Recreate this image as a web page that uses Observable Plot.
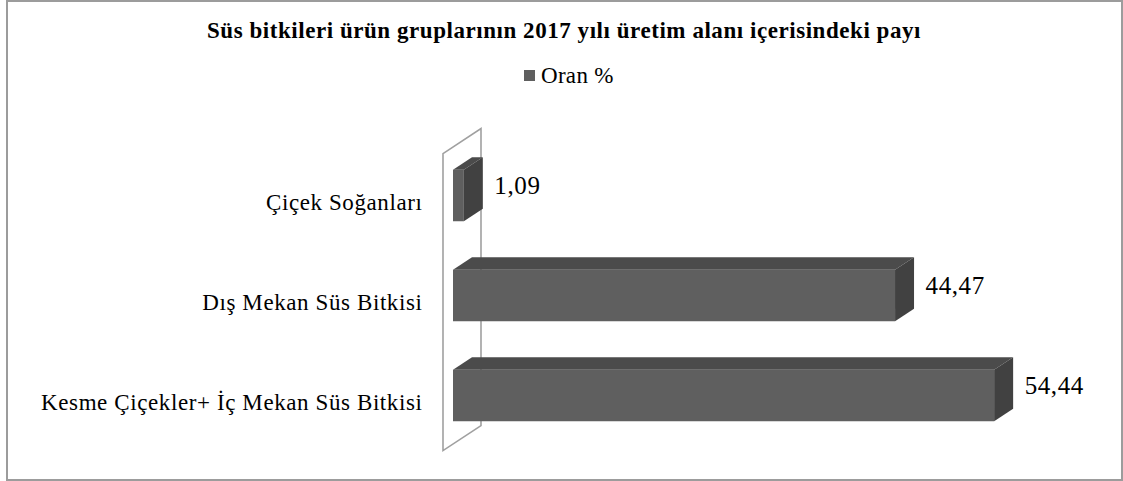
<!DOCTYPE html>
<html>
<head>
<meta charset="utf-8">
<script src="https://cdn.jsdelivr.net/npm/d3@7"></script>
<script src="https://cdn.jsdelivr.net/npm/@observablehq/plot@0.6"></script>
<style>
  html, body { margin: 0; padding: 0; background: #fff; }
  #fig { position: relative; width: 1123px; height: 481px; overflow: hidden; font-family: "Liberation Serif", "Times New Roman", serif; color: #000; }
  #frame { position: absolute; left: 6px; top: 0; width: 1117px; height: 481px; border: 2px solid #9c9c9c; box-sizing: border-box; pointer-events: none; }
  #title { position: absolute; left: 0; top: 19px; width: 1123px; padding-left: 5px; box-sizing: border-box; text-align: center; font-weight: bold; font-size: 23px; line-height: 23px; letter-spacing: 0.55px; white-space: nowrap; }
  #legend { position: absolute; left: 524px; top: 64px; display: flex; align-items: center; gap: 6px; font-size: 23px; line-height: 23px; letter-spacing: 0.3px; white-space: nowrap; }
  #legend .sw { width: 11px; height: 11px; background: #5f5f5f; }
  #plot { position: absolute; left: 0; top: 100px; }
</style>
</head>
<body>
<div id="fig">
  <div id="title"></div>
  <div id="legend"><span class="sw"></span><span id="legend-label"></span></div>
  <div id="plot"></div>
  <div id="frame"></div>
</div>
<script>
// ---- data ----
const titleText = "Süs bitkileri ürün gruplarının 2017 yılı üretim alanı içerisindeki payı";
const seriesName = "Oran %";
const categories = ["Çiçek Soğanları", "Dış Mekan Süs Bitkisi", "Kesme Çiçekler+ İç Mekan Süs Bitkisi"];
const shares = [1.09, 44.47, 54.44];
const xDomain = [0, 60];

// ---- style constants ----
const FRONT = "#5f5f5f", TOP = "#4b4b4b", SIDE = "#414141";
const DEPTH_DX = 19, DEPTH_DY = -12.5;        // bar depth
const WALL_DX = 38, WALL_DY = -25;            // wall depth
const WALL_OFF_X = -10, WALL_OFF_Y = 6.6;     // wall front plane relative to bar fronts

document.getElementById("title").textContent = titleText;
document.getElementById("legend-label").textContent = seriesName;

const data = categories.map((c, i) => ({cat: c, value: shares[i]}));
const fmt = v => v.toFixed(2).replace(".", ",");

// side wall drawn from the scales
const wall = (index, scales) => {
  const x = scales.x, y = scales.y;
  const [r0, r1] = y.range();
  const xf = x(0) + WALL_OFF_X;
  const yT = Math.min(r0, r1) + WALL_OFF_Y, yB = Math.max(r0, r1) + WALL_OFF_Y;
  const p = d3.path();
  p.moveTo(xf, yT); p.lineTo(xf + WALL_DX, yT + WALL_DY);
  p.lineTo(xf + WALL_DX, yB + WALL_DY); p.lineTo(xf, yB); p.closePath();
  return d3.create("svg:path").attr("d", p.toString())
    .attr("fill", "#fff").attr("stroke", "#a0a0a0").attr("stroke-width", 1.6).node();
};

// 3D top & side faces of each bar, positioned through the scales
const faces = (index, scales) => {
  const x = scales.x, y = scales.y;
  const bw = y.bandwidth();
  const g = d3.create("svg:g");
  data.forEach(d => {
    const x0 = x(0), x1 = x(d.value);
    const yt = y(d.cat), yb = yt + bw;
    g.append("path")
      .attr("d", `M${x0},${yt}L${x1},${yt}L${x1 + DEPTH_DX},${yt + DEPTH_DY}L${x0 + DEPTH_DX},${yt + DEPTH_DY}Z`)
      .attr("fill", TOP);
    g.append("path")
      .attr("d", `M${x1},${yt}L${x1 + DEPTH_DX},${yt + DEPTH_DY}L${x1 + DEPTH_DX},${yb + DEPTH_DY}L${x1},${yb}Z`)
      .attr("fill", SIDE);
  });
  return g.node();
};

const chart = Plot.plot({
  width: 1123,
  height: 381,
  marginLeft: 453,
  marginRight: 73.6,
  marginTop: 47,
  marginBottom: 37,
  style: {fontFamily: "'Liberation Serif', 'Times New Roman', serif", fontSize: "23px", color: "#000", background: "transparent", letterSpacing: "0.6px"},
  x: {domain: xDomain, axis: null},
  y: {domain: categories, paddingInner: 0.485, paddingOuter: 0.2275, round: false, label: null},
  marks: [
    wall,
    Plot.barX(data, {x: "value", y: "cat", fill: FRONT}),
    faces,
    Plot.axisY({tickSize: 0, tickPadding: 31, dy: WALL_OFF_Y, label: null, fill: "#000"}),
    Plot.text(data, {x: "value", y: "cat", text: d => fmt(d.value), textAnchor: "start", dx: 30, dy: -10, fontSize: 25, fill: "#000"})
  ]
});
document.getElementById("plot").appendChild(chart);
</script>
</body>
</html>
